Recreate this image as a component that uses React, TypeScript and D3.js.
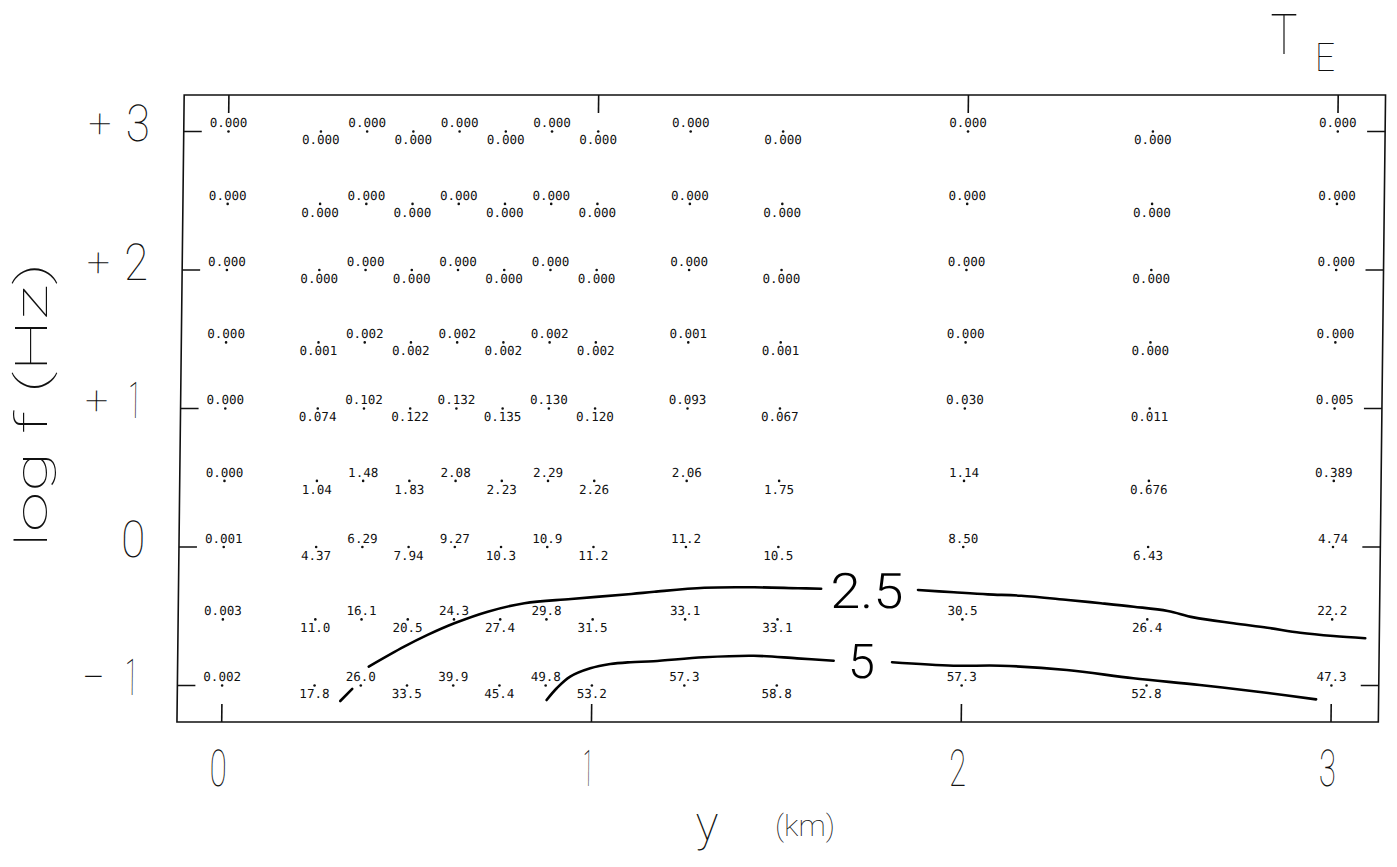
import React from "react";
import * as d3 from "d3";

// ---- data ----
const distancesKm = [0, 0.25, 0.375, 0.5, 0.625, 0.75, 0.875, 1.0, 1.25, 1.5, 2.0, 2.5, 3.0];
const frequenciesHz = [1000, 300, 100, 30, 10, 3, 1, 0.3, 0.1];

const row1000 = ["0.000", "0.000", "0.000", "0.000", "0.000", "0.000", "0.000", "0.000", "0.000", "0.000", "0.000", "0.000", "0.000"];
const row300 = ["0.000", "0.000", "0.000", "0.000", "0.000", "0.000", "0.000", "0.000", "0.000", "0.000", "0.000", "0.000", "0.000"];
const row100 = ["0.000", "0.000", "0.000", "0.000", "0.000", "0.000", "0.000", "0.000", "0.000", "0.000", "0.000", "0.000", "0.000"];
const row30 = ["0.000", "0.001", "0.002", "0.002", "0.002", "0.002", "0.002", "0.002", "0.001", "0.001", "0.000", "0.000", "0.000"];
const row10 = ["0.000", "0.074", "0.102", "0.122", "0.132", "0.135", "0.130", "0.120", "0.093", "0.067", "0.030", "0.011", "0.005"];
const row3 = ["0.000", "1.04", "1.48", "1.83", "2.08", "2.23", "2.29", "2.26", "2.06", "1.75", "1.14", "0.676", "0.389"];
const row1 = ["0.001", "4.37", "6.29", "7.94", "9.27", "10.3", "10.9", "11.2", "11.2", "10.5", "8.50", "6.43", "4.74"];
const row03 = ["0.003", "11.0", "16.1", "20.5", "24.3", "27.4", "29.8", "31.5", "33.1", "33.1", "30.5", "26.4", "22.2"];
const row01 = ["0.002", "17.8", "26.0", "33.5", "39.9", "45.4", "49.8", "53.2", "57.3", "58.8", "57.3", "52.8", "47.3"];
const valueRows = [row1000, row300, row100, row30, row10, row3, row1, row03, row01];

const xTicks = [0, 1, 2, 3];
const xTickLabels = ["0", "1", "2", "3"];
const yTicks = [-1, 0, 1, 2, 3];
const yTickSigns = ["−", "", "+", "+", "+"];
const yTickDigits = ["1", "0", "1", "2", "3"];

// contour lines: [y km, log f]
const contour25Level = "2.5";
const contour25SegA = [[0.320, -1.112], [0.352, -1.025]];
const contour25SegB = [
  [0.396, -0.864], [0.491, -0.720], [0.554, -0.635], [0.626, -0.551], [0.716, -0.467],
  [0.815, -0.406], [0.941, -0.375], [1.104, -0.339], [1.166, -0.323], [1.301, -0.294],
  [1.436, -0.291], [1.555, -0.298], [1.617, -0.301],
];
const contour25SegC = [
  [1.879, -0.310], [1.976, -0.327], [2.068, -0.342], [2.158, -0.352], [2.285, -0.383],
  [2.374, -0.406], [2.463, -0.431], [2.555, -0.462], [2.625, -0.508], [2.733, -0.551],
  [2.825, -0.583], [2.914, -0.619], [3.004, -0.643], [3.090, -0.659],
];
const contour25LabelAt = [1.741, -0.310];

const contour5Level = "5";
const contour5SegA = [
  [0.878, -1.105], [0.905, -1.020], [0.941, -0.936], [0.995, -0.876], [1.049, -0.845],
  [1.104, -0.832], [1.166, -0.825], [1.302, -0.796], [1.437, -0.785], [1.554, -0.804],
  [1.653, -0.821],
];
const contour5SegB = [
  [1.811, -0.832], [1.977, -0.857], [2.104, -0.857], [2.284, -0.888], [2.464, -0.948],
  [2.644, -0.996], [2.824, -1.052], [2.959, -1.100],
];
const contour5LabelAt = [1.728, -0.816];

// ---- layout ----
const W = 1397;
const H = 867;
const SKEW_K = 0.0115;
const PIVOT_Y = 722;

const THIN = "'Roboto', 'Lato', 'Inter', sans-serif";
const MONO = "'DejaVu Sans Mono', monospace";

export default function App() {
  const x = d3.scaleLinear().domain([0, 3]).range([221.7, 1331]);
  const y = d3.scaleLinear().domain([-1, 3]).range([685.5, 131.5]);

  const frameLeft = x(-0.121);
  const frameRight = x(3.128);
  const frameTop = y(3.264);
  const frameBottom = y(-1.264);

  const line = d3
    .line<number[]>()
    .x((d) => x(d[0]))
    .y((d) => y(d[1]))
    .curve(d3.curveCatmullRom.alpha(0.5));

  const skewDeg = (-Math.atan(SKEW_K) * 180) / Math.PI;
  const tickLen = 18;

  return (
    <svg
      width={W}
      height={H}
      viewBox={`0 0 ${W} ${H}`}
      style={{ position: "absolute", left: 0, top: 0, background: "#fff" }}
    >
      <rect x={0} y={0} width={W} height={H} fill="#fff" />
      <g transform={`translate(${SKEW_K * PIVOT_Y},0) skewX(${skewDeg})`}>
        {/* frame */}
        <rect
          x={frameLeft}
          y={frameTop}
          width={frameRight - frameLeft}
          height={frameBottom - frameTop}
          fill="none"
          stroke="#111"
          strokeWidth={1.6}
        />
        {/* x ticks bottom & top */}
        {xTicks.map((t) => (
          <g key={"xt" + t}>
            <line x1={x(t)} x2={x(t)} y1={frameBottom} y2={frameBottom - tickLen} stroke="#111" strokeWidth={1.6} />
            <line x1={x(t)} x2={x(t)} y1={frameTop} y2={frameTop + tickLen} stroke="#111" strokeWidth={1.6} />
          </g>
        ))}
        {/* y ticks left & right */}
        {yTicks.map((t) => (
          <g key={"yt" + t}>
            <line x1={frameLeft} x2={frameLeft + tickLen} y1={y(t)} y2={y(t)} stroke="#111" strokeWidth={1.6} />
            <line x1={frameRight} x2={frameRight - tickLen} y1={y(t)} y2={y(t)} stroke="#111" strokeWidth={1.6} />
          </g>
        ))}
        {/* x tick labels */}
        {xTicks.map((t, i) => (
          <text
            key={"xl" + t}
            x={x(t) - 3}
            y={786}
            textAnchor="middle"
            fontFamily={THIN}
            fontWeight={100}
            fontSize={51}
            textLength={xTickLabels[i] === "1" ? 10 : 17}
            lengthAdjust="spacingAndGlyphs"
            fill="#111"
          >
            {xTickLabels[i]}
          </text>
        ))}
        {/* y tick labels */}
        {yTicks.map((t, i) => (
          <g key={"yl" + t}>
            {yTickSigns[i] && (
              <text
                x={93}
                y={y(t) + 6}
                textAnchor="middle"
                fontFamily={THIN}
                fontWeight={100}
                fontSize={40}
                textLength={23}
                lengthAdjust="spacingAndGlyphs"
                fill="#111"
              >
                {yTickSigns[i]}
              </text>
            )}
            <text
              x={131}
              y={y(t) + 10}
              textAnchor="middle"
              fontFamily={THIN}
              fontWeight={100}
              fontSize={51}
              textLength={yTickDigits[i] === "1" ? 13 : 24}
              lengthAdjust="spacingAndGlyphs"
              fill="#111"
            >
              {yTickDigits[i]}
            </text>
          </g>
        ))}
        {/* data points and values */}
        {frequenciesHz.map((f, r) =>
          distancesKm.map((dk, c) => {
            const px = x(dk);
            const py = y(Math.log10(f));
            const above = c % 2 === 0;
            return (
              <g key={`p${r}-${c}`}>
                <circle cx={px} cy={py} r={1.3} fill="#111" />
                <text
                  x={px}
                  y={above ? py - 4 : py + 13}
                  textAnchor="middle"
                  fontFamily={MONO}
                  fontSize={12.5}
                  fill="#111"
                >
                  {valueRows[r][c]}
                </text>
              </g>
            );
          })
        )}
        {/* contours */}
        {[contour25SegA, contour25SegB, contour25SegC, contour5SegA, contour5SegB].map((seg, i) => (
          <path key={"c" + i} d={line(seg) || ""} fill="none" stroke="#000" strokeWidth={2.6} strokeLinecap="round" />
        ))}
        <text
          x={x(contour25LabelAt[0])}
          y={y(contour25LabelAt[1]) + 18}
          textAnchor="middle"
          fontFamily={THIN}
          fontWeight={300}
          fontSize={49}
          textLength={73}
          lengthAdjust="spacingAndGlyphs"
          fill="#000"
        >
          {contour25Level}
        </text>
        <text
          x={x(contour5LabelAt[0])}
          y={y(contour5LabelAt[1]) + 18}
          textAnchor="middle"
          fontFamily={THIN}
          fontWeight={300}
          fontSize={48}
          textLength={27}
          lengthAdjust="spacingAndGlyphs"
          fill="#000"
        >
          {contour5Level}
        </text>
      </g>
      {/* axis titles */}
      <text
        transform={`translate(47,405) rotate(-90)`}
        textAnchor="middle"
        fontFamily={THIN}
        fontWeight={100}
        fontSize={44}
        textLength={285}
        lengthAdjust="spacingAndGlyphs"
        fill="#111"
      >
        log f (Hz)
      </text>
      <text x={707} y={840} textAnchor="middle" fontFamily={THIN} fontWeight={100} fontSize={48} fill="#111">
        y
      </text>
      <text
        x={805}
        y={836}
        textAnchor="middle"
        fontFamily={THIN}
        fontWeight={100}
        fontSize={30}
        textLength={60}
        lengthAdjust="spacingAndGlyphs"
        fill="#111"
      >
        (km)
      </text>
      {/* title T_E */}
      <text
        x={1284}
        y={54}
        textAnchor="middle"
        fontFamily={THIN}
        fontWeight={100}
        fontSize={55}
        textLength={27}
        lengthAdjust="spacingAndGlyphs"
        fill="#111"
      >
        T
      </text>
      <text
        x={1325}
        y={71}
        textAnchor="middle"
        fontFamily={THIN}
        fontWeight={100}
        fontSize={38}
        textLength={20}
        lengthAdjust="spacingAndGlyphs"
        fill="#111"
      >
        E
      </text>
    </svg>
  );
}
